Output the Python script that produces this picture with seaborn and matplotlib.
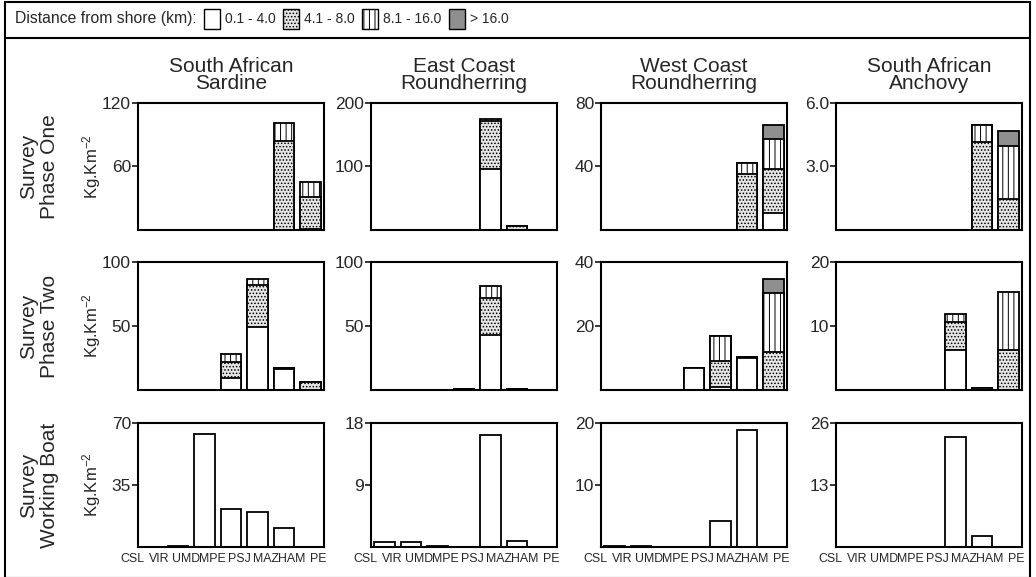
import numpy as np
import pandas as pd
import matplotlib
matplotlib.use("Agg")
import matplotlib.pyplot as plt
import matplotlib.transforms as mtransforms
from matplotlib.patches import Patch, Rectangle
from matplotlib.lines import Line2D
import seaborn as sns

# ---------------- data ----------------
sites = ["CSL", "VIR", "UMD", "MPE", "PSJ", "MAZ", "HAM", "PE"]
species = ["South African\nSardine", "East Coast\nRoundherring",
           "West Coast\nRoundherring", "South African\nAnchovy"]
surveys = ["Survey\nPhase One", "Survey\nPhase Two", "Survey\nWorking Boat"]
bands = ["0.1 - 4.0", "4.1 - 8.0", "8.1 - 16.0", "> 16.0"]

# each panel: rows = distance bands, columns = sites (Kg.Km-2)
p1_sardine = [[0, 0, 0, 0, 0, 0, 0, 1],
              [0, 0, 0, 0, 0, 0, 84, 30],
              [0, 0, 0, 0, 0, 0, 17.5, 14],
              [0, 0, 0, 0, 0, 0, 0, 0]]
p1_eastcoast = [[0, 0, 0, 0, 0, 96, 0, 0],
                [0, 0, 0, 0, 0, 75, 7, 0],
                [0, 0, 0, 0, 0, 4, 0, 0],
                [0, 0, 0, 0, 0, 0, 0, 0]]
p1_westcoast = [[0, 0, 0, 0, 0, 0, 0, 11],
                [0, 0, 0, 0, 0, 0, 35, 27.5],
                [0, 0, 0, 0, 0, 0, 7.5, 19],
                [0, 0, 0, 0, 0, 0, 0, 8.5]]
p1_anchovy = [[0, 0, 0, 0, 0, 0, 0, 0],
              [0, 0, 0, 0, 0, 0, 4.15, 1.45],
              [0, 0, 0, 0, 0, 0, 0.8, 2.5],
              [0, 0, 0, 0, 0, 0, 0, 0.75]]

p2_sardine = [[0, 0, 0, 0, 9, 49, 16.5, 0],
              [0, 0, 0, 0, 12.5, 33, 0.5, 6.5],
              [0, 0, 0, 0, 7, 5, 0, 0],
              [0, 0, 0, 0, 0, 0, 0, 0]]
p2_eastcoast = [[0, 0, 0, 0, 1, 43, 0.8, 0],
                [0, 0, 0, 0, 0, 29, 0, 0],
                [0, 0, 0, 0, 0, 9, 0, 0],
                [0, 0, 0, 0, 0, 0, 0, 0]]
p2_westcoast = [[0, 0, 0, 0, 6.8, 1, 10, 0],
                [0, 0, 0, 0, 0, 8, 0.3, 12],
                [0, 0, 0, 0, 0, 8, 0, 18.3],
                [0, 0, 0, 0, 0, 0, 0, 4.5]]
p2_anchovy = [[0, 0, 0, 0, 0, 6.3, 0.3, 0],
              [0, 0, 0, 0, 0, 4.3, 0, 6.2],
              [0, 0, 0, 0, 0, 1.3, 0, 9.1],
              [0, 0, 0, 0, 0, 0, 0, 0]]

wb_sardine = [[0, 0, 0.5, 64, 21.3, 19.5, 11, 0],
              [0, 0, 0, 0, 0, 0, 0, 0],
              [0, 0, 0, 0, 0, 0, 0, 0],
              [0, 0, 0, 0, 0, 0, 0, 0]]
wb_eastcoast = [[0, 0.72, 0.72, 0.15, 0, 16.2, 0.9, 0],
                [0, 0, 0, 0, 0, 0, 0, 0],
                [0, 0, 0, 0, 0, 0, 0, 0],
                [0, 0, 0, 0, 0, 0, 0, 0]]
wb_westcoast = [[0, 0.2, 0.2, 0, 0, 4.26, 18.8, 0],
                [0, 0, 0, 0, 0, 0, 0, 0],
                [0, 0, 0, 0, 0, 0, 0, 0],
                [0, 0, 0, 0, 0, 0, 0, 0]]
wb_anchovy = [[0, 0, 0, 0, 0, 23.1, 2.4, 0],
              [0, 0, 0, 0, 0, 0, 0, 0],
              [0, 0, 0, 0, 0, 0, 0, 0],
              [0, 0, 0, 0, 0, 0, 0, 0]]

panels = [[p1_sardine, p1_eastcoast, p1_westcoast, p1_anchovy],
          [p2_sardine, p2_eastcoast, p2_westcoast, p2_anchovy],
          [wb_sardine, wb_eastcoast, wb_westcoast, wb_anchovy]]

y_max = [[120, 200, 80, 6.0],
         [100, 100, 40, 20],
         [70, 18, 20, 26]]
y_labels = [[["60", "120"], ["100", "200"], ["40", "80"], ["3.0", "6.0"]],
            [["50", "100"], ["50", "100"], ["20", "40"], ["10", "20"]],
            [["35", "70"], ["9", "18"], ["10", "20"], ["13", "26"]]]

# ---------------- style ----------------
sns.set_style("ticks")
plt.rcParams["font.family"] = ["Liberation Sans", "DejaVu Sans"]
plt.rcParams["mathtext.fontset"] = "custom"
plt.rcParams["mathtext.rm"] = "Liberation Sans"
plt.rcParams["mathtext.it"] = "Liberation Sans"
plt.rcParams["hatch.linewidth"] = 0.7

band_face = ["white", "#e6e6e6", "white", "#8f8f8f"]
band_hatch = [None, ".....", "|||", None]

W, H = 1036, 577
fig = plt.figure(figsize=(W / 100, H / 100), dpi=100)

col_left = [138, 371, 601, 836]
ax_w = 186
row_top = [103, 262, 423]
row_bot = [230, 390, 547]


def fx(px):
    return px / W


def fy(py):
    return 1 - py / H


for r in range(3):
    for c in range(4):
        ax = fig.add_axes([fx(col_left[c]), fy(row_bot[r]), ax_w / W,
                           (row_bot[r] - row_top[r]) / H])
        data = np.array(panels[r][c], dtype=float)
        cum = np.cumsum(data, axis=0)
        # draw from the top layer down so lower segments overlay
        for b in range(3, -1, -1):
            if not np.any(data[b] > 0):
                continue
            df = pd.DataFrame({"site": sites, "value": cum[b]})
            df = df[df["value"] > 0]
            sns.barplot(data=df, x="site", y="value", order=sites, ax=ax,
                        color=band_face[b], saturation=1, errorbar=None,
                        edgecolor="black", linewidth=1.3, width=0.77,
                        hatch=band_hatch[b])
        ymax = y_max[r][c]
        ax.set_ylim(0, ymax)
        ax.set_xlim(0.5, 7.5)
        ax.set_xticks([])
        ax.set_xlabel("")
        ax.set_ylabel("")
        ax.set_yticks([ymax / 2, ymax])
        ax.set_yticklabels(y_labels[r][c])
        ax.tick_params(axis="y", direction="out", length=4, width=1.3,
                       labelsize=12.5, pad=1)
        for sp in ax.spines.values():
            sp.set_visible(True)
            sp.set_linewidth(1.5)
            sp.set_color("black")
        if r == 2:
            trans = mtransforms.blended_transform_factory(ax.transData,
                                                          ax.transAxes)
            for i, s in enumerate(sites):
                ax.text(i + 0.3, -0.05, s, transform=trans, ha="center",
                        va="top", fontsize=8.9, clip_on=False)

# column titles
for c in range(4):
    fig.text(fx(col_left[c] + ax_w / 2), fy(75), species[c], ha="center",
             va="center", fontsize=15, linespacing=0.85)

# row labels
for r in range(3):
    yc = fy((row_top[r] + row_bot[r]) / 2)
    fig.text(fx(39), yc, surveys[r], ha="center", va="center", rotation=90,
             fontsize=15, linespacing=1.1)
    fig.text(fx(92), yc, r"Kg.Km$^{-2}$", ha="center", va="center",
             rotation=90, fontsize=12)

# legend + frame
fig.text(fx(15), fy(19), "Distance from shore (km):", ha="left",
         va="center", fontsize=11.3)
handles = [Patch(facecolor=band_face[b], edgecolor="black",
                 hatch=band_hatch[b], linewidth=1.0) for b in range(4)]
fig.legend(handles, bands, ncol=4, loc="center left",
           bbox_to_anchor=(fx(204), fy(19)), frameon=False, fontsize=10,
           handlelength=1.15, handleheight=1.8, columnspacing=0.55,
           handletextpad=0.35, borderaxespad=0, borderpad=0)

fig.add_artist(Rectangle((fx(5), fy(578)), fx(1025), fy(2) - fy(578),
                         transform=fig.transFigure, fill=False,
                         edgecolor="black", linewidth=1.5))
fig.add_artist(Line2D([fx(5), fx(1030)], [fy(38), fy(38)],
                      transform=fig.transFigure, color="black",
                      linewidth=1.5))

fig.savefig("out.png", dpi=100)
